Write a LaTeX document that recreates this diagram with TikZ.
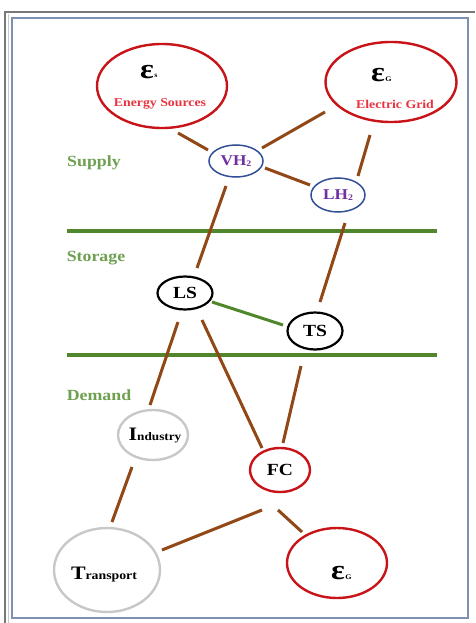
\documentclass[tikz,border=0pt]{standalone}
\usepackage{fontspec}
\setmainfont[FakeStretch=1.15]{Liberation Serif}
\usetikzlibrary{shapes.geometric,calc}
\definecolor{cred}{RGB}{200,20,25}
\definecolor{tred}{RGB}{232,52,64}
\definecolor{cblue}{RGB}{50,80,150}
\definecolor{cpurple}{RGB}{112,48,160}
\definecolor{cgray}{RGB}{200,200,200}
\definecolor{cbrown}{RGB}{145,72,22}
\definecolor{cgreen}{RGB}{80,135,45}
\definecolor{tgreen}{RGB}{110,160,80}
\definecolor{frameblue}{RGB}{125,145,180}
\definecolor{framegray}{RGB}{120,120,120}
\tikzset{
  ell/.style={ellipse, draw, inner sep=0pt, fill=none},
  redell/.style={ell, draw=cred, line width=2.4pt},
  blueell/.style={ell, draw=cblue, line width=1.5pt},
  blackell/.style={ell, draw=black, line width=2.2pt},
  grayell/.style={ell, draw=cgray, line width=2.4pt},
  link/.style={draw=cbrown, line width=3pt},
  glink/.style={draw=cgreen, line width=3pt},
  band/.style={draw=cgreen, line width=3.5pt},
  lbl/.style={text=tgreen, font=\bfseries\fontsize{15.5}{17}\selectfont},
  eps/.style={font=\bfseries\fontsize{28}{30}\selectfont, inner sep=0pt},
  sub/.style={font=\bfseries\fontsize{7}{8}\selectfont, inner sep=0pt},
  redtxt/.style={text=tred, font=\bfseries\fontsize{12}{13}\selectfont, inner sep=0pt},
  ptxt/.style={text=cpurple, font=\bfseries\fontsize{15}{17}\selectfont, inner sep=0pt},
  btxt/.style={font=\bfseries\fontsize{17}{19}\selectfont, inner sep=0pt},
}
\begin{document}
\begin{tikzpicture}[x=1pt,y=-1pt]
\useasboundingbox (0,0) rectangle (475,623);
\fill[white] (0,0) rectangle (475,623);
% frame
\draw[framegray, line width=1.2pt] (5,623) -- (5,12) -- (475,12);
\draw[cgray, line width=0.8pt] (8,623) -- (8,14);
\draw[frameblue, line width=1.5pt] (12,18) rectangle (468,618);
% bands
\draw[band] (67,231) -- (437,231);
\draw[band] (67,355) -- (437,355);
\node[lbl] (supply) at (94,163) {Supply};
\node[lbl] (storage) at (96,258) {Storage};
\node[lbl] (demand) at (99,395) {Demand};
% ellipses
\node[redell, minimum width=130pt, minimum height=84pt] (es) at (162,86) {};
\node[redell, minimum width=131pt, minimum height=80pt] (eg) at (391,82) {};
\node[blueell, minimum width=54pt, minimum height=32pt] (vh) at (236,161) {};
\node[blueell, minimum width=54pt, minimum height=34pt] (lh) at (338,195) {};
\node[blackell, minimum width=55pt, minimum height=33pt] (ls) at (185,293) {};
\node[blackell, minimum width=55pt, minimum height=37pt] (ts) at (315,331) {};
\node[grayell, minimum width=70pt, minimum height=50pt] (ind) at (153,435) {};
\node[grayell, minimum width=106pt, minimum height=84pt] (tr) at (107,570) {};
\node[redell, minimum width=60pt, minimum height=44pt] (fc) at (280,470) {};
\node[redell, minimum width=100pt, minimum height=70pt] (eo) at (337,563) {};
% texts
\node[eps] (esym) at (147,72) {ε};
\node[sub, anchor=west] (ssub) at (esym.east) [yshift=-4pt] {s};
\node[redtxt] (estxt) at (160,104) {Energy Sources};
\node[eps] (gsym) at (378,75) {ε};
\node[sub, anchor=west] (gsub) at (gsym.east) [yshift=-4pt] {G};
\node[redtxt] (egtxt) at (395,104) {Electric Grid};
\node[eps] (osym) at (338,573) {ε};
\node[sub, anchor=west] (osub) at (osym.east) [yshift=-4pt] {G};
\node[ptxt] (vhtxt) at (vh) {VH\raisebox{-1pt}{\fontsize{8.5}{9}\selectfont 2}};
\node[ptxt] (lhtxt) at (lh) {LH\raisebox{-1pt}{\fontsize{8.5}{9}\selectfont 2}};
\node[btxt] (lstxt) at (ls) {LS};
\node[btxt] (tstxt) at (ts) {TS};
\node[btxt] (fctxt) at (fc) {FC};
\node[inner sep=0pt, font=\bfseries] (indtxt) at (155,436) {{\fontsize{19}{20}\selectfont I}{\fontsize{11.5}{12}\selectfont ndustry}};
\node[inner sep=0pt, font=\bfseries] (trtxt) at (104,575) {{\fontsize{19}{20}\selectfont T}{\fontsize{12}{13}\selectfont ransport}};
% connectors
\draw[link] ($(es)+(16,47)$) -- ($(vh)+(-28,-11)$);
\draw[link] ($(eg)+(-66,30)$) -- ($(vh)+(26,-13)$);
\draw[link] ($(vh)+(29,7)$) -- ($(lh)+(-28,-10)$);
\draw[link] ($(eg)+(-21,53)$) -- ($(lh)+(20,-19)$);
\draw[link] ($(vh)+(-10,25)$) -- ($(ls)+(12,-25)$);
\draw[link] ($(lh)+(7,28)$) -- ($(ts)+(5,-29)$);
\draw[glink] ($(ls)+(27,9)$) -- ($(ts)+(-32,-6)$);
\draw[link] ($(ls)+(-7,29)$) -- ($(ind)+(-3,-30)$);
\draw[link] ($(ls)+(17,27)$) -- ($(fc)+(-18,-22)$);
\draw[link] ($(ts)+(-14,35)$) -- ($(fc)+(3,-27)$);
\draw[link] ($(ind)+(-21,32)$) -- ($(tr)+(5,-48)$);
\draw[link] ($(fc)+(-18,40)$) -- ($(tr)+(55,-20)$);
\draw[link] ($(fc)+(-2,40)$) -- ($(eo)+(-35,-31)$);
\end{tikzpicture}
\end{document}
